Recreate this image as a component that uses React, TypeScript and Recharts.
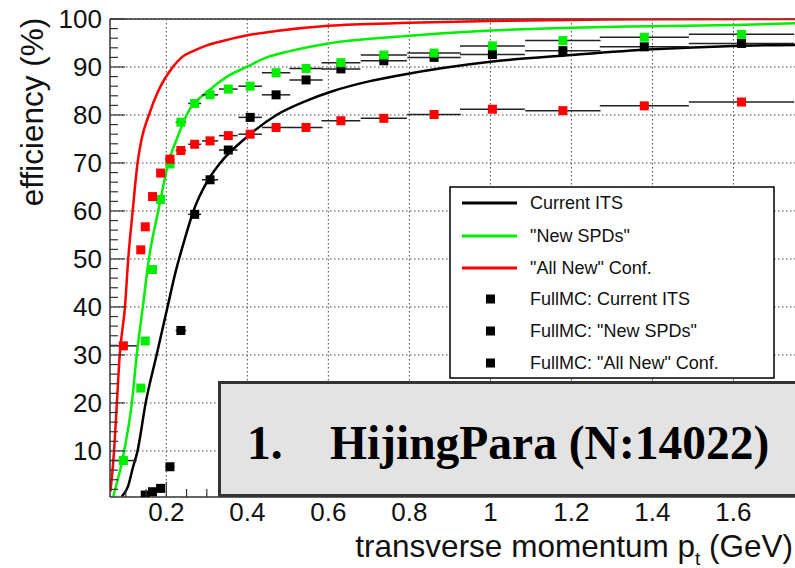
import { ComposedChart, Line, Scatter, ErrorBar, XAxis, YAxis, CartesianGrid, ReferenceLine, Label } from 'recharts'

// bin centres (GeV) and half widths of the FullMC points
const ptBins = [0.094, 0.137, 0.148, 0.166, 0.186, 0.209, 0.236, 0.27, 0.308, 0.353, 0.407, 0.471, 0.545, 0.631, 0.737, 0.861, 1.005, 1.179, 1.38, 1.62]
const ptHalfWidth = [0.033, 0.005, 0.006, 0.008, 0.009, 0.011, 0.013, 0.016, 0.02, 0.023, 0.029, 0.035, 0.041, 0.048, 0.057, 0.066, 0.08, 0.093, 0.11, 0.13]

const fullCurrentIts = [null, null, 0.8, 1.5, 2.2, 6.7, 35.1, 59.3, 66.5, 72.7, 79.5, 84.2, 87.3, 89.6, 91.3, 92.0, 92.6, 93.4, 94.2, 94.9]
const fullNewSpds = [8.0, 23.1, 32.9, 47.8, 62.4, 69.8, 78.5, 82.4, 84.2, 85.4, 86.0, 88.8, 89.7, 90.9, 92.5, 92.9, 94.4, 95.5, 96.2, 96.8]
const fullAllNew = [31.9, 51.9, 56.7, 63.0, 67.9, 70.8, 72.6, 73.9, 74.6, 75.7, 76.0, 77.4, 77.4, 78.8, 79.3, 80.1, 81.2, 80.9, 81.9, 82.7]

// fast-simulation curves
const currentItsPt = [0.09, 0.105, 0.118, 0.129, 0.149, 0.176, 0.203, 0.222, 0.245, 0.267, 0.3, 0.333, 0.4, 0.472, 0.547, 0.612, 0.7, 0.777, 1.0, 1.2, 1.4, 1.6, 1.752]
const currentItsEff = [0.5, 2.5, 6.7, 10, 20, 30, 40, 47, 54, 60, 66, 70, 75.5, 80, 83, 85, 87, 88.3, 91.1, 92.5, 93.7, 94.4, 94.6]

const newSpdsPt = [0.069, 0.096, 0.115, 0.127, 0.142, 0.157, 0.18, 0.192, 0.205, 0.226, 0.25, 0.304, 0.35, 0.398, 0.448, 0.5, 0.6, 0.8, 1.0, 1.2, 1.4, 1.6, 1.752]
const newSpdsEff = [0.5, 10, 20, 30, 40, 50, 60, 65, 70, 75, 80, 85, 88, 90, 92, 93.2, 94.9, 96.5, 97.6, 98.2, 98.5, 98.75, 99.1]

const allNewPt = [0.062, 0.071, 0.078, 0.085, 0.098, 0.106, 0.117, 0.129, 0.139, 0.157, 0.18, 0.216, 0.238, 0.266, 0.3, 0.357, 0.4, 0.471, 0.6, 0.8, 1.0, 1.2, 1.4, 1.752]
const allNewEff = [1.5, 10, 20, 30, 40, 50, 60, 70, 75, 80, 85, 90, 92, 93.3, 94.5, 95.8, 96.6, 97.5, 98.6, 99.2, 99.6, 99.8, 99.95, 100]

const xMajorTicks = [0.2, 0.4, 0.6, 0.8, 1.0, 1.2, 1.4, 1.6]
const xTickLabels = ['0.2', '0.4', '0.6', '0.8', '1', '1.2', '1.4', '1.6']
const yMajorTicks = [10, 20, 30, 40, 50, 60, 70, 80, 90, 100]

const X_MIN = 0.061
const X_MAX = 1.752
const Y_MIN = 0.4

const RED = '#ff0000'
const GREEN = '#00ee00'
const BLACK = '#000000'
const SANS = '"Liberation Sans", Arial, Helvetica, sans-serif'
const SERIF = '"Liberation Serif", "Times New Roman", serif'

const curve = (pt: number[], eff: number[]) => pt.map((x, i) => ({ x, y: eff[i] }))
const points = (vals: (number | null)[]) =>
  ptBins
    .map((x, i) => ({ x, y: vals[i], xErr: ptHalfWidth[i] }))
    .filter((p) => p.y !== null)

// minor ticks every 0.05 on x, every 2 on y (ROOT style)
const xAllTicks = Array.from({ length: 34 }, (_, i) => Math.round((0.1 + i * 0.05) * 100) / 100)
const yAllTicks = Array.from({ length: 50 }, (_, i) => (i + 1) * 2)

const XTick = ({ x, y, payload }: any) => {
  const idx = xMajorTicks.findIndex((t) => Math.abs(t - payload.value) < 1e-6)
  const major = idx >= 0
  return (
    <g>
      <line x1={x} x2={x} y1={y} y2={y - (major ? 15 : 8)} stroke="#333" strokeWidth={1.2} />
      {major && (
        <text x={x} y={y + 15} textAnchor="middle" dominantBaseline="central" fontSize={26} fontFamily={SANS} fill="#111">
          {xTickLabels[idx]}
        </text>
      )}
    </g>
  )
}

const YTick = ({ x, y, payload }: any) => {
  const major = yMajorTicks.includes(payload.value)
  return (
    <g>
      <line x1={x} x2={x + (major ? 15 : 8)} y1={y} y2={y} stroke="#333" strokeWidth={1.2} />
      {major && (
        <text x={x - 8} y={y} textAnchor="end" dominantBaseline="central" fontSize={26} fontFamily={SANS} fill="#111">
          {payload.value}
        </text>
      )}
    </g>
  )
}

const Square = ({ cx, cy, fill }: any) => <rect x={cx - 4.5} y={cy - 4.5} width={9} height={9} fill={fill} />

const legendRows = [
  { label: 'Current ITS', kind: 'line', color: BLACK },
  { label: '"New SPDs"', kind: 'line', color: GREEN },
  { label: '"All New" Conf.', kind: 'line', color: RED },
  { label: 'FullMC: Current ITS', kind: 'mark', color: BLACK },
  { label: 'FullMC: "New SPDs"', kind: 'mark', color: BLACK },
  { label: 'FullMC: "All New" Conf.', kind: 'mark', color: BLACK },
]
const legendRowY = [203, 236, 268, 299, 331, 363]

export default function App() {
  return (
    <div style={{ position: 'absolute', left: 0, top: 0, width: 795, height: 568, overflow: 'hidden', background: '#fff' }}>
      <ComposedChart width={795} height={568} margin={{ top: 19, right: 0, bottom: 0, left: 0 }}>
        <CartesianGrid
          stroke="#444"
          strokeDasharray="1.5 2.5"
          horizontalValues={yMajorTicks}
          verticalValues={xMajorTicks}
        />
        <XAxis
          type="number"
          dataKey="x"
          domain={[X_MIN, X_MAX]}
          allowDataOverflow
          ticks={xAllTicks}
          interval={0}
          tick={<XTick />}
          tickLine={false}
          tickSize={0}
          tickMargin={0}
          height={71}
          axisLine={{ stroke: '#333', strokeWidth: 1.5 }}
        >
          <Label
            content={({ viewBox }: any) => (
              <text x={viewBox.x + viewBox.width - 2} y={557} textAnchor="end" fontSize={31.5} fontFamily={SANS} fill="#111">
                transverse momentum p
                <tspan fontSize={19} dy={8}>t</tspan>
                <tspan dy={-8}> (GeV)</tspan>
              </text>
            )}
          />
        </XAxis>
        <YAxis
          type="number"
          domain={[Y_MIN, 100]}
          allowDataOverflow
          ticks={yAllTicks}
          interval={0}
          tick={<YTick />}
          tickLine={false}
          tickSize={0}
          tickMargin={0}
          width={110}
          axisLine={{ stroke: '#333', strokeWidth: 1.5 }}
        >
          <Label
            content={() => (
              <text x={43} y={112} transform="rotate(-90 43 112)" textAnchor="middle" fontSize={31.5} fontFamily={SANS} fill="#111">
                efficiency (%)
              </text>
            )}
          />
        </YAxis>
        <ReferenceLine y={100} stroke="#333" strokeWidth={1.5} />

        <Line data={curve(currentItsPt, currentItsEff)} dataKey="y" type="monotone" stroke={BLACK} strokeWidth={2.5} dot={false} isAnimationActive={false} />
        <Line data={curve(newSpdsPt, newSpdsEff)} dataKey="y" type="monotone" stroke={GREEN} strokeWidth={2.5} dot={false} isAnimationActive={false} />
        <Line data={curve(allNewPt, allNewEff)} dataKey="y" type="monotone" stroke={RED} strokeWidth={2.5} dot={false} isAnimationActive={false} />

        <Scatter data={points(fullCurrentIts)} dataKey="y" fill={BLACK} shape={<Square />} isAnimationActive={false}>
          <ErrorBar dataKey="xErr" direction="x" width={0} stroke="#222" strokeWidth={1.5} />
        </Scatter>
        <Scatter data={points(fullNewSpds)} dataKey="y" fill={GREEN} shape={<Square />} isAnimationActive={false}>
          <ErrorBar dataKey="xErr" direction="x" width={0} stroke="#222" strokeWidth={1.5} />
        </Scatter>
        <Scatter data={points(fullAllNew)} dataKey="y" fill={RED} shape={<Square />} isAnimationActive={false}>
          <ErrorBar dataKey="xErr" direction="x" width={0} stroke="#222" strokeWidth={1.5} />
        </Scatter>
      </ComposedChart>

      <svg width={795} height={568} style={{ position: 'absolute', left: 0, top: 0, pointerEvents: 'none' }}>
        {/* legend */}
        <rect x={450} y={187} width={324} height={191} fill="#fff" stroke="#000" strokeWidth={1.5} />
        {legendRows.map((row, i) => (
          <g key={row.label}>
            {row.kind === 'line' ? (
              <line x1={462} x2={517} y1={legendRowY[i]} y2={legendRowY[i]} stroke={row.color} strokeWidth={3} />
            ) : (
              <rect x={486} y={legendRowY[i] - 4.5} width={9} height={9} fill={row.color} />
            )}
            <text x={530} y={legendRowY[i]} dominantBaseline="central" fontSize={18} fontFamily={SANS} fill="#111">
              {row.label}
            </text>
          </g>
        ))}

        {/* title box */}
        <rect x={219.5} y={382.5} width={600} height={113} fill="#e3e3e3" stroke="#333" strokeWidth={3} />
        <text x={247} y={459} fontSize={47.5} fontWeight="bold" fontFamily={SERIF} fill="#000">
          1.
        </text>
        <text x={330} y={459} fontSize={47.5} fontWeight="bold" fontFamily={SERIF} fill="#000">
          HijingPara (N:14022)
        </text>
      </svg>
    </div>
  )
}
